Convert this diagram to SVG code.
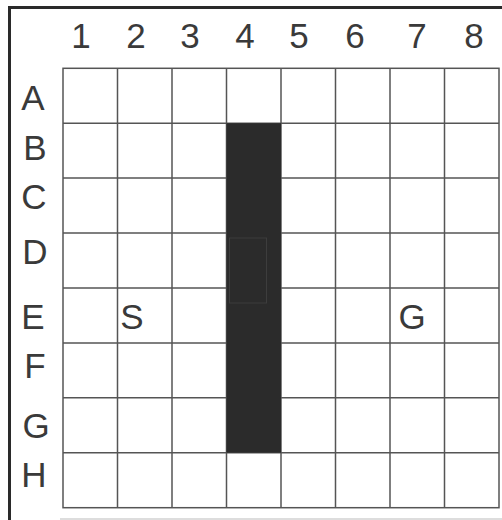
<svg xmlns="http://www.w3.org/2000/svg" width="502" height="520" viewBox="0 0 502 520">
<style>
.lbl{font-family:"Liberation Sans",Arial,sans-serif;font-size:35px;fill:#3a3a3a;text-anchor:middle}
.grid{stroke:#555;stroke-width:1.5;fill:none}
</style>
<rect width="502" height="520" fill="#fff"/>
<g id="frame">
<path d="M9.5 520 V7.5 H502" fill="none" stroke="#2a2a2a" stroke-width="3"/>
<path d="M60 519 H502" fill="none" stroke="#ddd" stroke-width="2"/>
</g>
<g id="grid" class="grid">
<rect x="63" y="68.3" width="436" height="439.4"/>
<path d="M117.5 68.3V507.7M172 68.3V507.7M226.5 68.3V507.7M281 68.3V507.7M335.5 68.3V507.7M390 68.3V507.7M444.5 68.3V507.7"/>
<path d="M63 123.2H499M63 178.1H499M63 233H499M63 288H499M63 342.9H499M63 397.8H499M63 452.7H499"/>
</g>
<g id="wall">
<rect x="226.5" y="123.2" width="54.5" height="329.5" fill="#2b2b2b"/>
<rect x="229.5" y="238" width="37" height="65" fill="none" stroke="#3d3d3d" stroke-width="1"/>
</g>
<g id="col-labels">
<text class="lbl" x="81" y="48">1</text>
<text class="lbl" x="136" y="48">2</text>
<text class="lbl" x="190" y="48">3</text>
<text class="lbl" x="245" y="48">4</text>
<text class="lbl" x="299" y="48">5</text>
<text class="lbl" x="355" y="48">6</text>
<text class="lbl" x="417" y="48">7</text>
<text class="lbl" x="474" y="48">8</text>
</g>
<g id="row-labels">
<text class="lbl" x="33" y="110">A</text>
<text class="lbl" x="35" y="160">B</text>
<text class="lbl" x="34" y="209">C</text>
<text class="lbl" x="35" y="264">D</text>
<text class="lbl" x="33" y="329">E</text>
<text class="lbl" x="35" y="378">F</text>
<text class="lbl" x="36" y="438">G</text>
<text class="lbl" x="34" y="487">H</text>
</g>
<g id="start"><text class="lbl" x="132" y="329">S</text></g>
<g id="goal"><text class="lbl" x="412" y="329">G</text></g>
</svg>
